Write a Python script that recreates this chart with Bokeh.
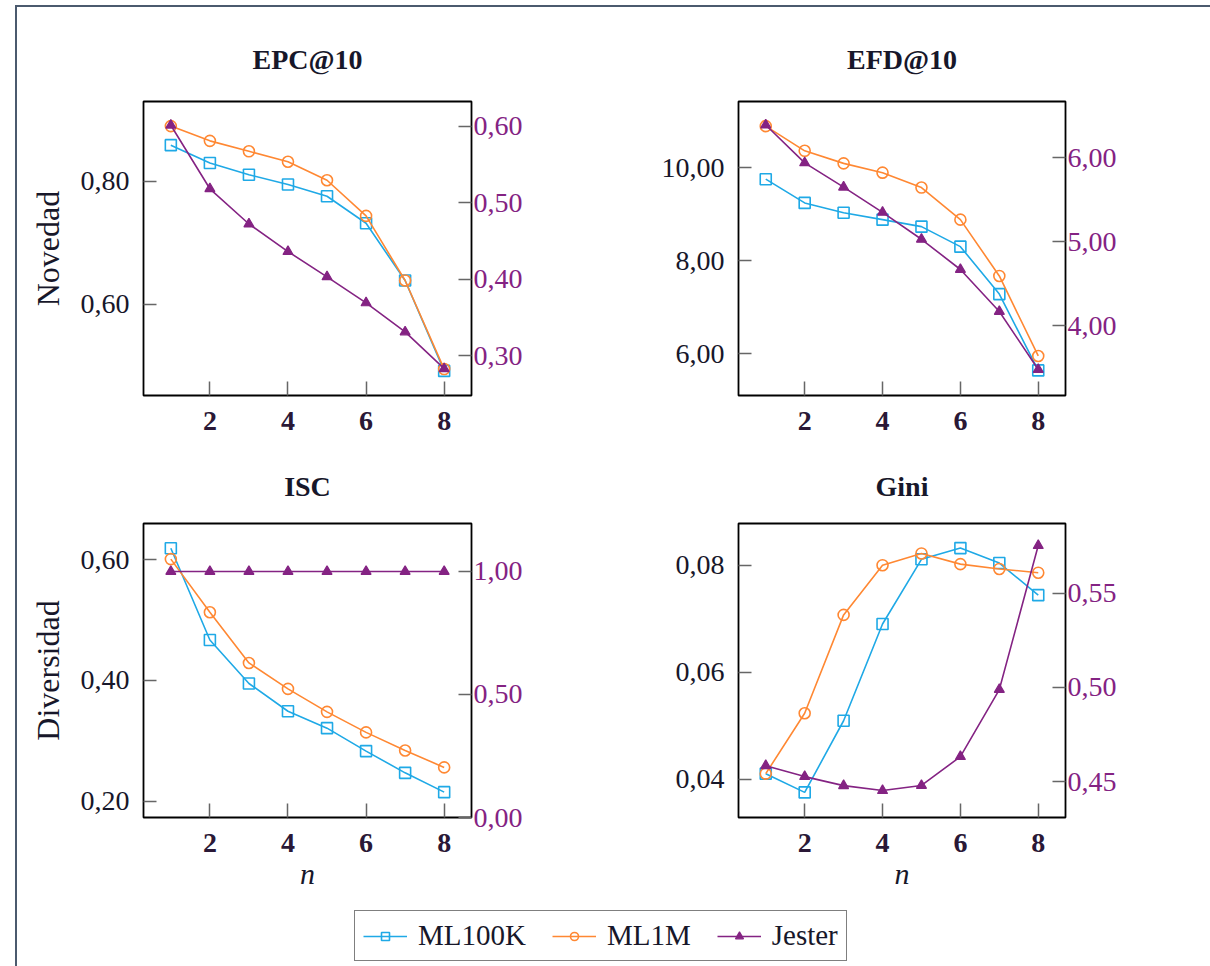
from bokeh.plotting import figure
from bokeh.models import (Range1d, LinearAxis, FixedTicker, CustomJSTickFormatter,
                          Legend, LegendItem)
from bokeh.layouts import column, row
from bokeh.embed import file_html
from bokeh.resources import INLINE

# ---- data -------------------------------------------------------------
n_values = [1, 2, 3, 4, 5, 6, 7, 8]
x_ticks = [2, 4, 6, 8]

epc_ml100k = [0.859, 0.830, 0.811, 0.795, 0.776, 0.732, 0.639, 0.492]
epc_ml1m = [0.890, 0.866, 0.849, 0.832, 0.802, 0.744, 0.639, 0.495]
epc_jester = [0.601, 0.518, 0.472, 0.436, 0.403, 0.369, 0.331, 0.283]
epc_left_ticks = [0.60, 0.80]
epc_right_ticks = [0.30, 0.40, 0.50, 0.60]

efd_ml100k = [9.75, 9.24, 9.03, 8.88, 8.73, 8.30, 7.28, 5.64]
efd_ml1m = [10.89, 10.36, 10.09, 9.89, 9.57, 8.88, 7.67, 5.95]
efd_jester = [6.39, 5.94, 5.65, 5.35, 5.03, 4.67, 4.17, 3.48]
efd_left_ticks = [6.0, 8.0, 10.0]
efd_right_ticks = [4.0, 5.0, 6.0]

isc_ml100k = [0.619, 0.467, 0.395, 0.349, 0.321, 0.283, 0.247, 0.215]
isc_ml1m = [0.601, 0.513, 0.429, 0.386, 0.348, 0.314, 0.284, 0.256]
isc_jester = [1.00, 1.00, 1.00, 1.00, 1.00, 1.00, 1.00, 1.00]
isc_left_ticks = [0.20, 0.40, 0.60]
isc_right_ticks = [0.0, 0.5, 1.0]

gini_ml100k = [0.0410, 0.0375, 0.0509, 0.0690, 0.0811, 0.0832, 0.0804, 0.0744]
gini_ml1m = [0.0410, 0.0523, 0.0707, 0.0800, 0.0822, 0.0802, 0.0793, 0.0786]
gini_jester = [0.4585, 0.4527, 0.4479, 0.4453, 0.4480, 0.4633, 0.4989, 0.5753]
gini_left_ticks = [0.04, 0.06, 0.08]
gini_right_ticks = [0.45, 0.50, 0.55]

series_names = ["ML100K", "ML1M", "Jester"]

# ---- style ------------------------------------------------------------
C_ML100K = "#1fa9e6"
C_ML1M = "#ff8833"
C_JESTER = "#842383"
TEXT_DARK = "#17172a"
SERIF = "Liberation Serif"
LW = 1.6

comma_fmt = "return tick.toFixed(2).replace('.', ',');"


def make_panel(title, ml100k, ml1m, jester, left_rng, right_rng, left_ticks, right_ticks,
               width, height, b_left, b_right, b_top, b_bottom, title_gap,
               ylabel=None, xlabel=None):
    p = figure(width=width, height=height, x_range=Range1d(0.3, 8.7),
               y_range=Range1d(*left_rng), toolbar_location=None, output_backend="svg",
               min_border_left=b_left, min_border_right=b_right,
               min_border_top=b_top, min_border_bottom=b_bottom)
    p.extra_y_ranges = {"right": Range1d(*right_rng)}
    p.grid.visible = False
    p.outline_line_color = "black"
    p.outline_line_width = 1.8
    p.background_fill_color = "white"
    p.border_fill_color = "white"

    p.title.text = title
    p.title.text_font = SERIF
    p.title.text_font_style = "bold"
    p.title.text_font_size = "28px"
    p.title.text_color = TEXT_DARK
    p.title.align = "center"
    p.title.standoff = title_gap

    # bottom axis
    xa = p.xaxis[0]
    xa.ticker = FixedTicker(ticks=x_ticks)
    xa.axis_line_color = None
    xa.major_tick_in = 14
    xa.major_tick_out = 0
    xa.major_tick_line_color = "#666666"
    xa.major_tick_line_width = 1.5
    xa.minor_tick_line_color = None
    xa.major_label_text_font = SERIF
    xa.major_label_text_font_size = "28px"
    xa.major_label_text_font_style = "bold"
    xa.major_label_text_color = "#2a1836"
    xa.major_label_standoff = 16
    if xlabel:
        xa.axis_label = xlabel
        xa.axis_label_text_font = SERIF
        xa.axis_label_text_font_style = "italic"
        xa.axis_label_text_font_size = "30px"
        xa.axis_label_text_color = TEXT_DARK
        xa.axis_label_standoff = 2

    # left axis
    ya = p.yaxis[0]
    ya.ticker = FixedTicker(ticks=left_ticks)
    ya.formatter = CustomJSTickFormatter(code=comma_fmt)
    ya.axis_line_color = None
    ya.major_tick_in = 13
    ya.major_tick_out = 0
    ya.major_tick_line_color = "#666666"
    ya.major_tick_line_width = 1.5
    ya.minor_tick_line_color = None
    ya.major_label_text_font = SERIF
    ya.major_label_text_font_size = "28px"
    ya.major_label_text_color = TEXT_DARK
    ya.major_label_standoff = 14
    if ylabel:
        ya.axis_label = ylabel
        ya.axis_label_text_font = SERIF
        ya.axis_label_text_font_style = "normal"
        ya.axis_label_text_font_size = "32px"
        ya.axis_label_text_color = TEXT_DARK
        ya.axis_label_standoff = 12

    # right axis for Jester
    ra = LinearAxis(y_range_name="right", ticker=FixedTicker(ticks=right_ticks),
                    formatter=CustomJSTickFormatter(code=comma_fmt))
    ra.axis_line_color = None
    ra.major_tick_in = 13
    ra.major_tick_out = 0
    ra.major_tick_line_color = "#666666"
    ra.major_tick_line_width = 1.5
    ra.minor_tick_line_color = None
    ra.major_label_text_font = SERIF
    ra.major_label_text_font_size = "28px"
    ra.major_label_text_color = C_JESTER
    ra.major_label_standoff = 2
    p.add_layout(ra, "right")

    p.line(n_values, ml100k, line_color=C_ML100K, line_width=LW)
    p.scatter(n_values, ml100k, marker="square", size=11, line_color=C_ML100K,
              line_width=LW, fill_color=None)
    p.line(n_values, ml1m, line_color=C_ML1M, line_width=LW)
    p.scatter(n_values, ml1m, marker="circle", size=11, line_color=C_ML1M,
              line_width=LW, fill_color=None)
    p.line(n_values, jester, line_color=C_JESTER, line_width=LW, y_range_name="right")
    p.scatter(n_values, jester, marker="triangle", size=10, line_color=C_JESTER,
              line_width=1.2, fill_color=C_JESTER, y_range_name="right")
    return p


p1 = make_panel("EPC@10", epc_ml100k, epc_ml1m, epc_jester, (0.452, 0.930), (0.248, 0.632),
                epc_left_ticks, epc_right_ticks, 588, 439, 126, 134, 94, 51, 54,
                ylabel="Novedad")
p2 = make_panel("EFD@10", efd_ml100k, efd_ml1m, efd_jester, (5.10, 11.42), (3.17, 6.67),
                efd_left_ticks, efd_right_ticks, 605, 439, 133, 145, 94, 51, 54)
p3 = make_panel("ISC", isc_ml100k, isc_ml1m, isc_jester, (0.173, 0.660), (0.0, 1.195),
                isc_left_ticks, isc_right_ticks, 588, 454, 126, 134, 77, 83, 44,
                ylabel="Diversidad", xlabel="n")
p4 = make_panel("Gini", gini_ml100k, gini_ml1m, gini_jester, (0.0328, 0.0878), (0.431, 0.587),
                gini_left_ticks, gini_right_ticks, 605, 454, 133, 145, 77, 83, 44, xlabel="n")

# ---- shared legend ----------------------------------------------------
# legend-only renderers sit outside the visible range of this strip
lf = figure(width=1193, height=66, x_range=Range1d(0, 1), y_range=Range1d(0, 1),
            toolbar_location=None, output_backend="svg", min_border=0,
            x_axis_type=None, y_axis_type=None)
lf.outline_line_color = None
lf.grid.visible = False

hx, hy = [-5, -4], [-5, -5]
r1l = lf.line(hx, hy, line_color=C_ML100K, line_width=LW)
r1s = lf.scatter(hx, hy, marker="square", size=8, line_color=C_ML100K, line_width=LW,
                 fill_color=None)
r2l = lf.line(hx, hy, line_color=C_ML1M, line_width=LW)
r2s = lf.scatter(hx, hy, marker="circle", size=8, line_color=C_ML1M, line_width=LW,
                 fill_color=None)
r3l = lf.line(hx, hy, line_color=C_JESTER, line_width=LW)
r3s = lf.scatter(hx, hy, marker="triangle", size=7, line_color=C_JESTER, line_width=1.2,
                 fill_color=C_JESTER)

legend = Legend(items=[LegendItem(label=series_names[0], renderers=[r1l, r1s]),
                       LegendItem(label=series_names[1], renderers=[r2l, r2s]),
                       LegendItem(label=series_names[2], renderers=[r3l, r3s])],
                orientation="horizontal", location=(337, 5), glyph_width=44,
                label_standoff=11, spacing=26, padding=8, margin=0,
                label_text_font=SERIF, label_text_font_size="29px",
                label_text_color=TEXT_DARK, border_line_color="black",
                border_line_width=1.8, background_fill_color="white")
lf.add_layout(legend)

layout = column(row(p1, p2), row(p3, p4), lf,
                styles={"border-top": "2px solid #4b5a6e", "border-left": "2px solid #4b5a6e",
                        "margin-top": "5px", "margin-left": "15px"})

open("out.html", "w").write(file_html(layout, INLINE))
